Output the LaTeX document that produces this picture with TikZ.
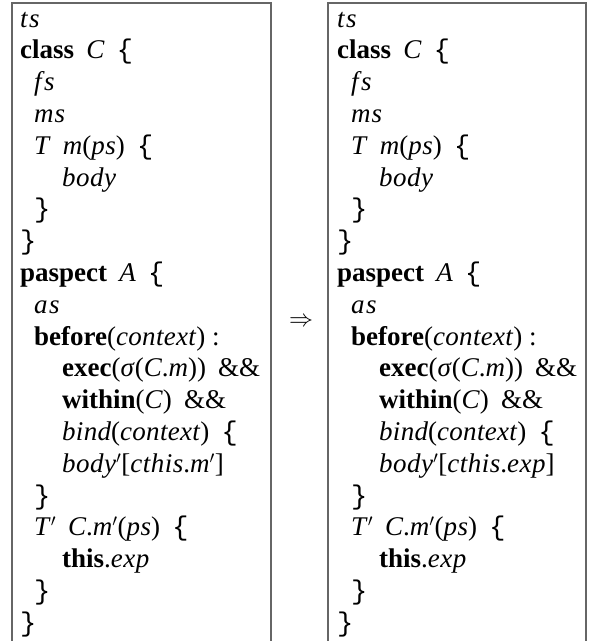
\documentclass[tikz,border=0pt]{standalone}
\usepackage{fontspec}
\setmainfont{Liberation Serif}
\setmonofont{Liberation Mono}

% keywords, identifiers, braces and primes
\newcommand\kw[1]{\textbf{#1}}
\newcommand\vr[1]{\textit{#1}}
\newcommand\lbr{\texttt{\{}}
\newcommand\rbr{\texttt{\}}}
\newcommand\pr{\ensuremath{'}}
\newcommand\gap{\hspace{0.45em}}

\tikzset{
  codeline/.style={anchor=base west, inner sep=0pt,
    font=\fontsize{27}{31.8}\selectfont},
  frame/.style={draw=black!60, line width=1.3pt},
}

% one listing; #1 = left text edge, #2 = name prefix, #3 = body of the advice
\newcommand\listing[3]{%
  \foreach \ind/\txt [count=\i] in {
    0/{\vr{t\kern1.5pt s}},
    0/{\kw{class}\gap\vr{C}\gap\lbr},
    1/{\vr{f\kern2.5pt s}},
    1/{\vr{m\kern1pt s}},
    1/{\vr{T}\gap\vr{m}(\vr{p\kern0.5pt s})\gap\lbr},
    2/{\vr{b\kern0.5pt o\kern0.5pt d\kern0.5pt y}},
    1/{\rbr},
    0/{\rbr},
    0/{\kw{paspect}\gap\vr{A}\gap\lbr},
    1/{\vr{a\kern1.5pt s}},
    1/{\kw{before}(\vr{c\kern0.3pt o\kern0.3pt n\kern0.3pt t\kern0.3pt e\kern0.3pt x\kern0.3pt t}) :},
    2/{\kw{exec}(\vr{σ}(\vr{C}.\vr{m}))\gap\&\&},
    2/{\kw{within}(\vr{C})\gap\&\&},
    2/{\vr{b\kern0.3pt i\kern0.3pt n\kern0.3pt d}(\vr{c\kern0.3pt o\kern0.3pt n\kern0.3pt t\kern0.3pt e\kern0.3pt x\kern0.3pt t})\gap\lbr},
    2/{#3},
    1/{\rbr},
    1/{\vr{T}\pr\gap\vr{C}.\vr{m}\pr(\vr{p\kern0.5pt s})\gap\lbr},
    2/{\kw{this}.\vr{e\kern0.5pt x\kern0.5pt p}},
    1/{\rbr},
    0/{\rbr}} {
    \pgfmathsetmacro\xx{#1 + (\ind==1 ? 14 : (\ind==2 ? 42 : 0))}
    \node[codeline] (#2\i) at (\xx, 27 + 31.8*\i - 31.8) {\txt};
  }%
}

\begin{document}
\begin{tikzpicture}[x=1pt, y=-1pt]
  \useasboundingbox (0,0) rectangle (591,641);

  % frames, open at the bottom
  \draw[frame] (12,645) -- (12,3) -- (271,3) -- (271,645);
  \draw[frame] (328,645) -- (328,3) -- (586,3) -- (586,645);

  \listing{20}{l}{\vr{b\kern0.5pt o\kern0.5pt d\kern0.5pt y}\pr[\vr{c\kern0.5pt t\kern0.5pt h\kern0.5pt i\kern0.5pt s}.\vr{m}\pr]}
  \listing{337}{r}{\vr{b\kern0.5pt o\kern0.5pt d\kern0.5pt y}\pr[\vr{c\kern0.5pt t\kern0.5pt h\kern0.5pt i\kern0.5pt s}.\vr{e\kern0.5pt x\kern0.5pt p}]}

  % the cmsy arrow only comes in fixed sizes, so it is scaled up
  \node[inner sep=0pt, scale=2.4] (arrow) at (301,322) {$\Rightarrow$};
\end{tikzpicture}
\end{document}
